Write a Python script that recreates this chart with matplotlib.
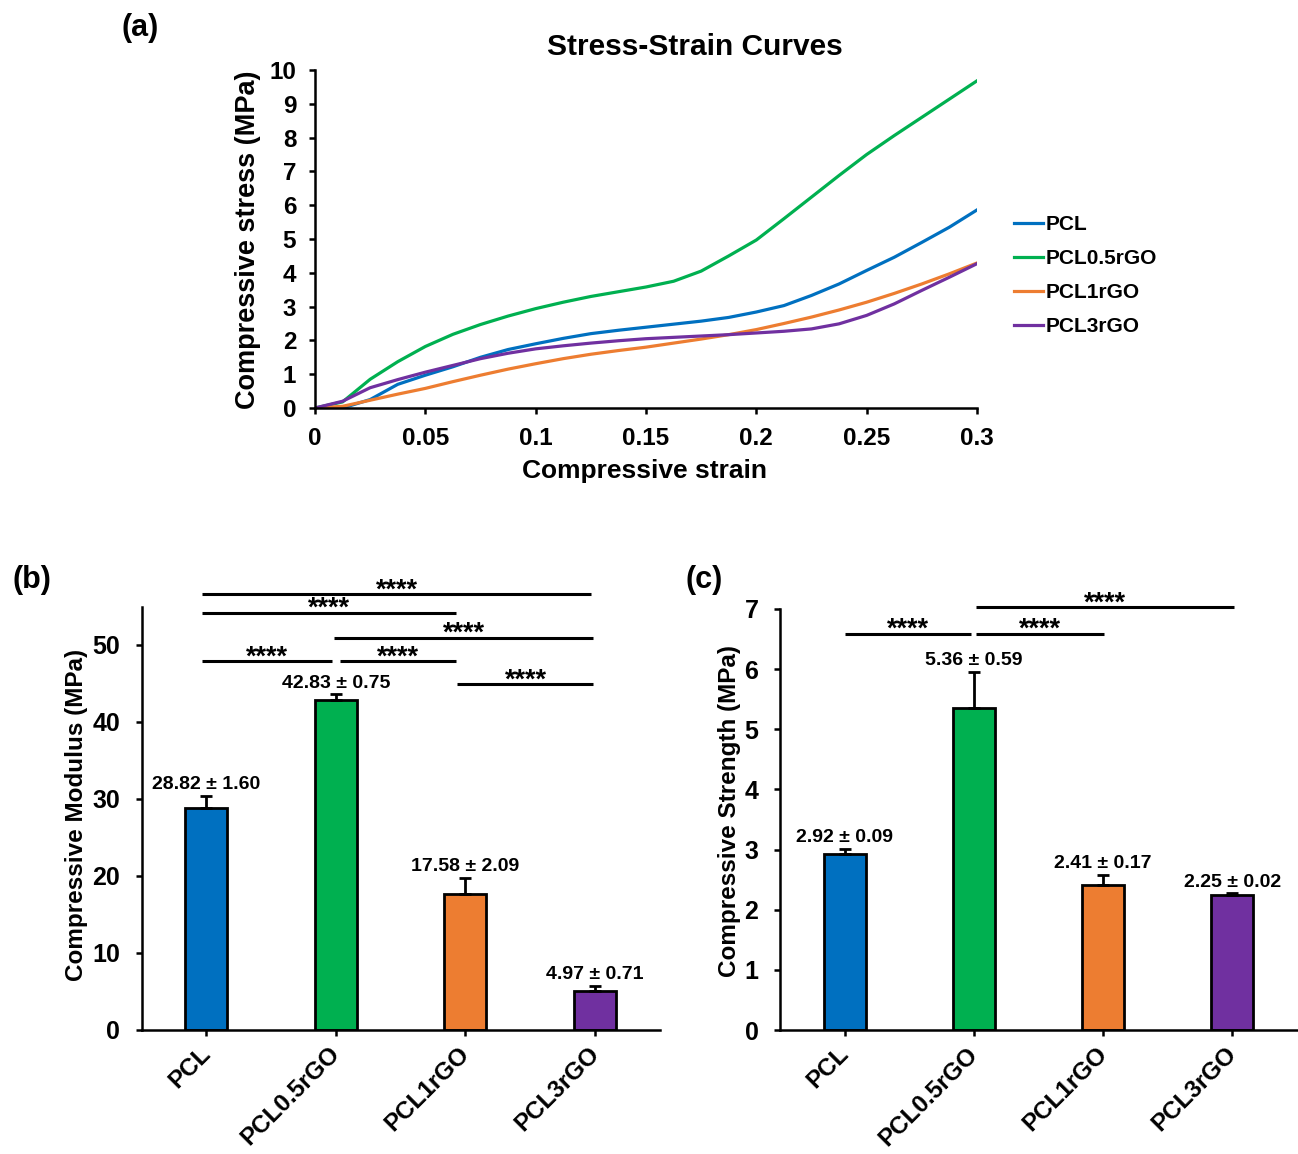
import matplotlib
matplotlib.use('Agg')
import matplotlib.pyplot as plt

plt.rcParams['font.family'] = ['Liberation Sans', 'DejaVu Sans']
plt.rcParams['font.weight'] = 'bold'
plt.rcParams['axes.labelweight'] = 'bold'

# (a) stress-strain curves
strain = [0, 0.0125, 0.025, 0.0375, 0.05, 0.0625, 0.075, 0.0875, 0.1, 0.1125, 0.125,
          0.1375, 0.15, 0.1625, 0.175, 0.1875, 0.2, 0.2125, 0.225, 0.2375, 0.25,
          0.2625, 0.275, 0.2875, 0.3]
pcl = [0, 0.0, 0.25, 0.7, 0.97, 1.22, 1.5, 1.73, 1.9, 2.06, 2.2, 2.3, 2.39, 2.48,
       2.57, 2.68, 2.84, 3.03, 3.33, 3.67, 4.07, 4.46, 4.9, 5.35, 5.86]
pcl05 = [0, 0.18, 0.85, 1.37, 1.82, 2.18, 2.47, 2.72, 2.94, 3.13, 3.3, 3.44, 3.58, 3.75,
         4.05, 4.5, 4.97, 5.6, 6.24, 6.88, 7.5, 8.06, 8.6, 9.14, 9.68]
pcl1 = [0, 0.05, 0.23, 0.41, 0.58, 0.78, 0.97, 1.15, 1.31, 1.46, 1.59, 1.7, 1.8, 1.92,
        2.04, 2.17, 2.32, 2.5, 2.69, 2.9, 3.13, 3.39, 3.67, 3.97, 4.29]
pcl3 = [0, 0.2, 0.6, 0.84, 1.06, 1.26, 1.46, 1.62, 1.75, 1.84, 1.92, 1.99, 2.05, 2.09,
        2.13, 2.17, 2.22, 2.27, 2.34, 2.49, 2.74, 3.08, 3.48, 3.87, 4.27]

groups = ['PCL', 'PCL0.5rGO', 'PCL1rGO', 'PCL3rGO']
colors = ['#0070C0', '#00B050', '#ED7D31', '#7030A0']

modulus = [28.82, 42.83, 17.58, 4.97]
modulus_sd = [1.60, 0.75, 2.09, 0.71]
strength = [2.92, 5.36, 2.41, 2.25]
strength_sd = [0.09, 0.59, 0.17, 0.02]

# significance bars: (x1, x2, y)
mod_sig = [(-0.03, 2.97, 56.6), (-0.03, 1.93, 54.2), (0.99, 2.99, 50.9),
           (-0.03, 0.97, 47.9), (1.03, 1.93, 47.9), (1.94, 2.99, 44.9)]
str_sig = [(1.02, 3.01, 7.03), (0.0, 0.98, 6.59), (1.02, 2.01, 6.59)]

fig = plt.figure(figsize=(12.98, 11.54), dpi=100)
W, H = 1298, 1154

def style(ax, lw=1.8):
    for s in ['top', 'right']:
        ax.spines[s].set_visible(False)
    for s in ['left', 'bottom']:
        ax.spines[s].set_linewidth(lw)
    ax.tick_params(direction='out', width=lw, length=4.5, colors='black')

# ---- (a)
ax1 = fig.add_axes([315/W, 1-408/H, 662/W, 338/H])
for y, c, lab in zip([pcl, pcl05, pcl1, pcl3], colors, groups):
    ax1.plot(strain, y, color=c, lw=2.3, label=lab)
ax1.set_xlim(0, 0.3)
ax1.set_ylim(0, 10)
ax1.set_xticks([0, 0.05, 0.1, 0.15, 0.2, 0.25, 0.3])
ax1.set_xticklabels(['0', '0.05', '0.1', '0.15', '0.2', '0.25', '0.3'])
ax1.set_yticks(range(0, 11))
style(ax1)
ax1.tick_params(axis='x', labelsize=17.5, pad=9)
ax1.tick_params(axis='y', labelsize=17.5, pad=9)
ax1.set_xlabel('Compressive strain', fontsize=19)
ax1.set_ylabel('Compressive stress (MPa)', fontsize=19.5)
ax1.xaxis.set_label_coords(0.498, -0.152)
ax1.yaxis.set_label_coords(-0.081, 0.497)
fig.text(695/W, 1-47/H, 'Stress-Strain Curves', fontsize=21.5, ha='center', va='center')
fig.legend(loc='center left', bbox_to_anchor=(1014/W, 1-276/H), frameon=False,
           fontsize=15, handlelength=1.4, handletextpad=0.12, labelspacing=0.72,
           borderpad=0, borderaxespad=0)

def bars(ax, vals, sds, sig, ymax, ylabel):
    x = range(len(groups))
    ax.bar(x, vals, width=0.325, color=colors, edgecolor='black', linewidth=2,
           yerr=[[0]*4, sds], error_kw=dict(ecolor='black', elinewidth=2,
                                            capsize=4, capthick=2), zorder=2)
    for i, (v, s) in enumerate(zip(vals, sds)):
        ax.annotate(f'{v:.2f} ± {s:.2f}', (i, v + s), xytext=(0, 2),
                    textcoords='offset points', ha='center', va='bottom', fontsize=14)
    for x1, x2, y in sig:
        ax.plot([x1, x2], [y, y], color='black', lw=2.2, clip_on=False,
                solid_capstyle='butt')
        ax.annotate('****', ((x1 + x2) / 2, y), xytext=(0, -2.2),
                    textcoords='offset points', ha='center', va='baseline',
                    fontsize=19.5, annotation_clip=False)
    ax.set_xlim(-0.5, 3.5)
    ax.set_ylim(0, ymax)
    ax.set_xticks(list(x))
    ax.set_xticklabels([])
    # category labels, rotated like the original
    for i, g in enumerate(groups):
        ax.annotate(g, (i, 0), xycoords=('data', 'axes fraction'), xytext=(-5.4, -9),
                    textcoords='offset points', ha='right', va='top', rotation=45,
                    rotation_mode='anchor', fontsize=17.5, annotation_clip=False)
    style(ax)
    ax.tick_params(axis='y', labelsize=18, pad=11)
    ax.set_ylabel(ylabel, fontsize=17.5)

# ---- (b)
ax2 = fig.add_axes([141.5/W, 1-1029.5/H, 518/W, 423/H])
bars(ax2, modulus, modulus_sd, mod_sig, 55, 'Compressive Modulus (MPa)')
ax2.set_yticks([0, 10, 20, 30, 40, 50])
ax2.yaxis.set_label_coords(-0.103, 0.507)

# ---- (c)
ax3 = fig.add_axes([780/W, 1-1030/H, 517/W, 421/H])
bars(ax3, strength, strength_sd, str_sig, 7, 'Compressive Strength (MPa)')
ax3.set_yticks(range(0, 8))
ax3.yaxis.set_label_coords(-0.075, 0.52)

fig.text(140/W, 1-28/H, '(a)', fontsize=22, ha='center', va='center')
fig.text(32/W, 1-580/H, '(b)', fontsize=22, ha='center', va='center')
fig.text(704/W, 1-580/H, '(c)', fontsize=22, ha='center', va='center')

fig.savefig('out.png', dpi=100)
